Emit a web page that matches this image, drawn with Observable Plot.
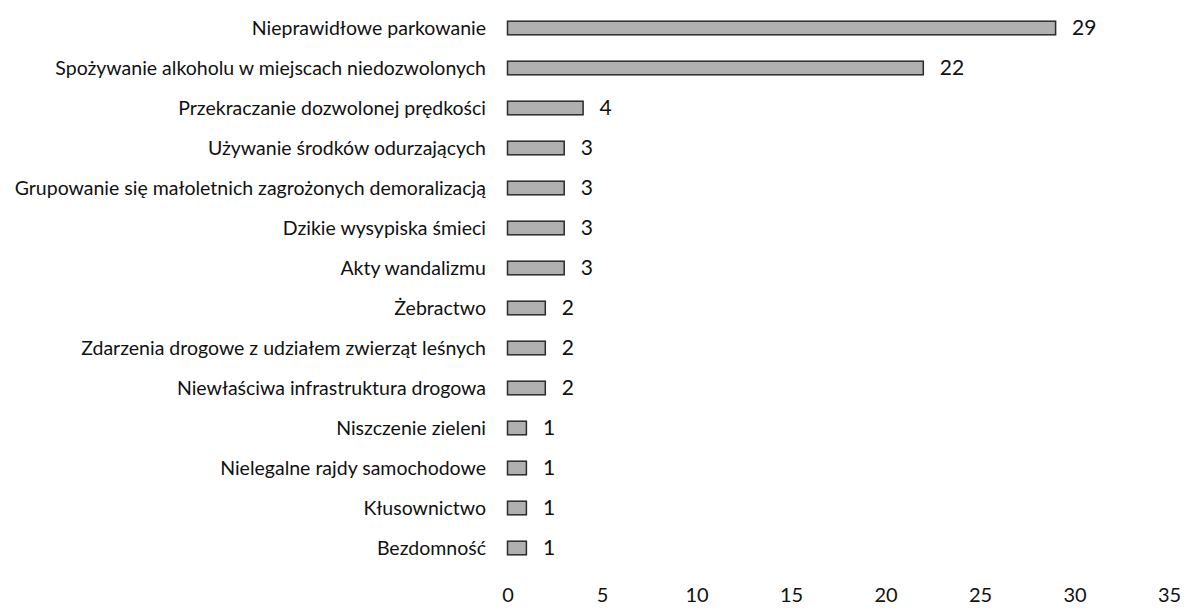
<!DOCTYPE html>
<html>
<head>
<meta charset="utf-8">
<script src="https://cdn.jsdelivr.net/npm/d3@7"></script>
<script src="https://cdn.jsdelivr.net/npm/@observablehq/plot@0.6"></script>
<style>
  html, body { margin: 0; padding: 0; background: #fff; }
  #chart svg { font-family: Lato, "Open Sans", sans-serif; color: #111; }
  #chart [aria-label="y-axis tick label"] text { font-size: 19.5px; }
  #chart [aria-label="x-axis tick label"] text { font-size: 20px; }
  #chart [aria-label="text"] text { font-size: 21px; }
</style>
</head>
<body>
<div id="chart"></div>
<script>
const categories = [
  "Nieprawidłowe parkowanie",
  "Spożywanie alkoholu w miejscach niedozwolonych",
  "Przekraczanie dozwolonej prędkości",
  "Używanie środków odurzających",
  "Grupowanie się małoletnich zagrożonych demoralizacją",
  "Dzikie wysypiska śmieci",
  "Akty wandalizmu",
  "Żebractwo",
  "Zdarzenia drogowe z udziałem zwierząt leśnych",
  "Niewłaściwa infrastruktura drogowa",
  "Niszczenie zieleni",
  "Nielegalne rajdy samochodowe",
  "Kłusownictwo",
  "Bezdomność"
];
const values = [29, 22, 4, 3, 3, 3, 3, 2, 2, 2, 1, 1, 1, 1];
const xTicks = [0, 5, 10, 15, 20, 25, 30, 35];

const data = categories.map((c, i) => ({category: c, value: values[i]}));

const chart = Plot.plot({
  width: 1188,
  height: 610,
  marginLeft: 507.5,
  marginRight: 19,
  marginTop: 0,
  marginBottom: 25,
  x: {domain: [0, 35]},
  y: {domain: categories, range: [5.3, 570.2], padding: 0},
  marks: [
    Plot.barX(data, {
      x: "value", y: "category",
      fill: "#b0b0b0", stroke: "#2a2a2a", strokeWidth: 1.5,
      insetTop: 13.2, insetBottom: 13.2
    }),
    Plot.text(data, {
      x: "value", y: "category",
      text: d => String(d.value),
      textAnchor: "start", dx: 16, fill: "#111"
    }),
    Plot.axisY({tickSize: 0, tickPadding: 22, label: null}),
    Plot.axisX({ticks: xTicks, tickSize: 0, tickPadding: 2, label: null, tickFormat: d => String(d)})
  ]
});
document.getElementById("chart").appendChild(chart);
</script>
</body>
</html>
